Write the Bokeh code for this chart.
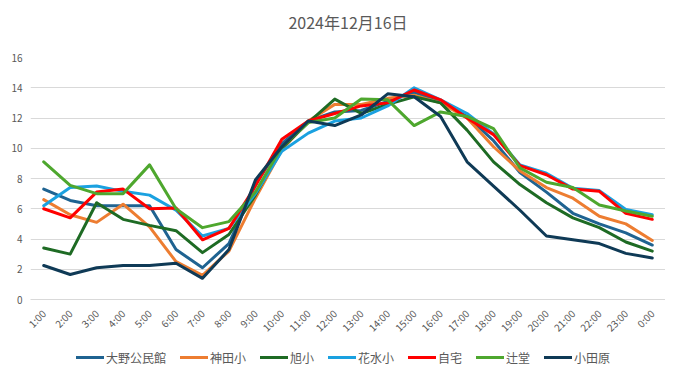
import math
from bokeh.plotting import figure
from bokeh.layouts import column
from bokeh.models import (FactorRange, Range1d, Legend, LegendItem, SingleIntervalTicker, Label)
from bokeh.embed import file_html
from bokeh.resources import INLINE

hours = ["1:00", "2:00", "3:00", "4:00", "5:00", "6:00", "7:00", "8:00", "9:00", "10:00",
         "11:00", "12:00", "13:00", "14:00", "15:00", "16:00", "17:00", "18:00", "19:00",
         "20:00", "21:00", "22:00", "23:00", "0:00"]

ohno = [7.3, 6.55, 6.2, 6.2, 6.2, 3.3, 2.1, 3.7, 7.6, 10.3, 11.8, 12.4, 12.5, 13.1, 13.7, 13.1,
        12.1, 10.5, 8.4, 7.1, 5.7, 5.0, 4.4, 3.6]
kanda = [6.6, 5.6, 5.1, 6.3, 4.8, 2.5, 1.6, 3.2, 6.7, 9.9, 11.8, 12.9, 12.9, 13.3, 13.5, 13.0,
         12.0, 10.1, 8.5, 7.4, 6.7, 5.5, 5.0, 3.9]
asahi = [3.4, 3.0, 6.4, 5.3, 4.9, 4.55, 3.1, 4.3, 6.9, 10.0, 11.7, 13.25, 12.3, 12.9, 13.4, 13.0,
         11.2, 9.1, 7.6, 6.4, 5.4, 4.75, 3.8, 3.2]
hanamizu = [6.2, 7.4, 7.5, 7.15, 6.9, 5.9, 4.2, 4.7, 7.0, 9.8, 11.0, 11.8, 12.0, 12.8, 14.0, 13.2,
            12.3, 10.95, 8.9, 8.35, 7.35, 7.2, 5.95, 5.6]
jitaku = [6.0, 5.4, 7.1, 7.3, 6.0, 6.05, 3.95, 4.7, 7.5, 10.6, 11.8, 12.3, 12.8, 13.0, 13.85, 13.2,
          12.0, 10.9, 8.85, 8.25, 7.3, 7.15, 5.7, 5.3]
tsujido = [9.1, 7.55, 7.0, 7.0, 8.9, 6.0, 4.75, 5.15, 7.1, 10.1, 11.7, 12.0, 13.25, 13.2, 11.5, 12.4,
           12.1, 11.3, 8.7, 7.75, 7.4, 6.25, 5.85, 5.5]
odawara = [2.25, 1.65, 2.1, 2.25, 2.25, 2.4, 1.4, 3.3, 7.9, 10.1, 11.8, 11.5, 12.2, 13.6, 13.4, 12.1,
           9.1, 7.5, 5.9, 4.2, 3.95, 3.7, 3.05, 2.75]

names = ["大野公民館", "神田小", "旭小", "花水小", "自宅", "辻堂", "小田原"]
series = [ohno, kanda, asahi, hanamizu, jitaku, tsujido, odawara]
colors = ["#1f6391", "#ed7d31", "#1e6b24", "#1aa1e0", "#ff0000", "#4ea72e", "#0f3a56"]

title_text = "2024年12月16日"
FONT = "Noto Sans CJK JP"
TXT = "#595959"

# ---- title strip ----
pt = figure(width=665, height=47, output_backend="svg", toolbar_location=None,
            x_range=Range1d(0, 1), y_range=Range1d(0, 47),
            x_axis_type=None, y_axis_type=None, min_border=0,
            background_fill_color="white", border_fill_color="white")
pt.outline_line_color = None
pt.xgrid.grid_line_color = None
pt.ygrid.grid_line_color = None
pt.add_layout(Label(x=0.5, y=26, text=title_text, text_align="center", text_baseline="middle",
                    text_font=FONT, text_font_size="16px", text_color=TXT))

# ---- main chart ----
p = figure(x_range=FactorRange(*hours), y_range=Range1d(0, 16), title=None,
           width=665, height=295, output_backend="svg", toolbar_location=None,
           min_border_left=30, min_border_right=0, min_border_top=10, min_border_bottom=40,
           background_fill_color="white", border_fill_color="white")
p.outline_line_color = None

for vals, col in zip(series, colors):
    p.line(hours, vals, line_color=col, line_width=3, line_join="round", line_cap="round")

p.yaxis.ticker = SingleIntervalTicker(interval=2)
p.ygrid.ticker = SingleIntervalTicker(interval=2)
p.ygrid.grid_line_color = "#d9d9d9"
p.ygrid.grid_line_width = 1
p.xgrid.grid_line_color = None

p.yaxis.axis_line_color = None
p.yaxis.major_tick_line_color = None
p.yaxis.minor_tick_line_color = None
p.yaxis.major_tick_out = 0
p.yaxis.minor_tick_out = 0
p.yaxis.major_label_standoff = 8
p.yaxis.major_label_text_font = FONT
p.yaxis.major_label_text_font_size = "10px"
p.yaxis.major_label_text_color = TXT

p.xaxis.axis_line_color = "#d9d9d9"
p.xaxis.major_tick_line_color = None
p.xaxis.minor_tick_line_color = None
p.xaxis.major_tick_out = 0
p.xaxis.major_label_orientation = math.pi / 4
p.xaxis.major_label_standoff = 12
p.xaxis.major_label_text_font = FONT
p.xaxis.major_label_text_font_size = "10px"
p.xaxis.major_label_text_color = TXT

# ---- legend strip (series drawn outside its visible range, legend only) ----
pl = figure(width=665, height=30, output_backend="svg", toolbar_location=None,
            x_range=FactorRange(*hours), y_range=Range1d(100, 101),
            x_axis_type=None, y_axis_type=None, min_border=0,
            background_fill_color="white", border_fill_color="white")
pl.outline_line_color = None
pl.xgrid.grid_line_color = None
pl.ygrid.grid_line_color = None
items = []
for name, vals, col in zip(names, series, colors):
    r = pl.line(hours, vals, line_color=col, line_width=3, line_cap="round")
    items.append(LegendItem(label=name, renderers=[r]))

legend = Legend(items=items, orientation="horizontal", location=(46, 5),
                glyph_width=28, glyph_height=20, label_standoff=2, spacing=14,
                padding=0, margin=0, border_line_color=None, background_fill_alpha=0,
                label_text_font=FONT, label_text_font_size="12px", label_text_color=TXT,
                label_height=20)
pl.add_layout(legend, "center")

layout = column(pt, p, pl, spacing=0)
open("out.html", "w").write(file_html(layout, INLINE))
